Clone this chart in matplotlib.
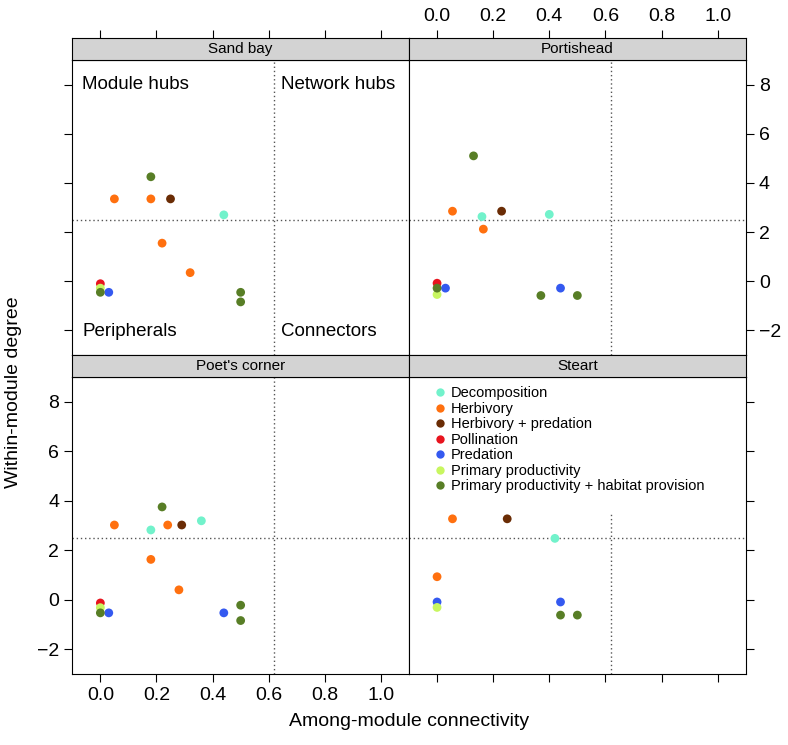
import matplotlib
matplotlib.use("Agg")
import matplotlib.pyplot as plt

plt.rcParams['font.family'] = ['Liberation Sans', 'DejaVu Sans']

# functional groups and their colours
groups = ['Decomposition', 'Herbivory', 'Herbivory + predation', 'Pollination',
          'Predation', 'Primary productivity',
          'Primary productivity + habitat provision']
group_colors = ['#72F2CB', '#FF700F', '#6A2C05', '#E8141E',
                '#3459F0', '#C8F660', '#587E26']

sites = ["Sand bay", "Portishead", "Poet's corner", "Steart"]

# among-module connectivity (x), within-module degree (y), group index
sandbay_x = [0.18, 0.05, 0.18, 0.25, 0.44, 0.22, 0.32, 0.0, 0.0, 0.0, 0.03, 0.5, 0.5]
sandbay_y = [4.25, 3.35, 3.35, 3.35, 2.7, 1.55, 0.35, -0.1, -0.28, -0.45, -0.45, -0.45, -0.84]
sandbay_g = [6, 1, 1, 2, 0, 1, 1, 3, 5, 6, 4, 6, 6]

portishead_x = [0.13, 0.055, 0.16, 0.23, 0.4, 0.165, 0.0, 0.0, 0.0, 0.03, 0.37, 0.44, 0.5]
portishead_y = [5.1, 2.85, 2.63, 2.85, 2.72, 2.12, -0.08, -0.54, -0.28, -0.28, -0.58, -0.28, -0.58]
portishead_g = [6, 1, 0, 2, 0, 1, 3, 5, 6, 4, 6, 4, 6]

poets_x = [0.22, 0.05, 0.18, 0.24, 0.29, 0.36, 0.18, 0.28, 0.0, 0.0, 0.0, 0.03, 0.44, 0.5, 0.5]
poets_y = [3.75, 3.02, 2.82, 3.02, 3.02, 3.19, 1.63, 0.4, -0.13, -0.32, -0.53, -0.53, -0.53, -0.22, -0.84]
poets_g = [6, 1, 0, 1, 2, 0, 1, 1, 3, 5, 6, 4, 4, 6, 6]

steart_x = [0.055, 0.25, 0.42, 0.0, 0.0, 0.0, 0.44, 0.44, 0.5]
steart_y = [3.27, 3.27, 2.48, 0.93, -0.09, -0.31, -0.09, -0.62, -0.62]
steart_g = [1, 2, 0, 1, 4, 5, 4, 6, 6]

site_x = [sandbay_x, portishead_x, poets_x, steart_x]
site_y = [sandbay_y, portishead_y, poets_y, steart_y]
site_g = [sandbay_g, portishead_g, poets_g, steart_g]

x_ticks = [0.0, 0.2, 0.4, 0.6, 0.8, 1.0]
y_ticks = [-2, 0, 2, 4, 6, 8]
x_cut = 0.62
y_cut = 2.5

fig = plt.figure(figsize=(7.88, 7.45), dpi=100)

W, H = 788, 745
col_left = [72.3, 409.0]
col_w = 336.7
# (strip top, panel top, panel bottom) in pixels, per row
rows = [(37.7, 60.0, 355.0), (355.0, 377.0, 674.0)]

def px_box(x0, w, top, bottom):
    return [x0 / W, 1 - bottom / H, w / W, (bottom - top) / H]

for i, site in enumerate(sites):
    r, c = divmod(i, 2)
    s_top, p_top, p_bot = rows[r]
    ax = fig.add_axes(px_box(col_left[c], col_w, p_top, p_bot))
    st = fig.add_axes(px_box(col_left[c], col_w, s_top, p_top))

    # strip
    st.set_facecolor('#D3D3D3')
    st.set_xlim(-0.1, 1.1)
    st.set_yticks([])
    st.text(0.5, 0.5, site, transform=st.transAxes, ha='center', va='center', fontsize=11)
    if r == 0:
        st.set_xticks(x_ticks)
        st.tick_params(axis='x', direction='out', length=6, top=True, bottom=False,
                       labeltop=(c == 1), labelbottom=False, labelsize=14)
    else:
        st.set_xticks([])

    # reference lines
    ax.axhline(y_cut, color='#555555', lw=1, ls=(0, (1, 2)), zorder=1)
    if site == 'Steart':
        ax.plot([x_cut, x_cut], [-3, 3.5], color='#555555', lw=1, ls=(0, (1, 2)), zorder=1)
    else:
        ax.axvline(x_cut, color='#555555', lw=1, ls=(0, (1, 2)), zorder=1)

    xs, ys, gs = site_x[i], site_y[i], site_g[i]
    for k in range(len(groups)):
        px = [xs[j] for j in range(len(xs)) if gs[j] == k]
        py = [ys[j] for j in range(len(ys)) if gs[j] == k]
        ax.scatter(px, py, s=40, color=group_colors[k], edgecolors='none', zorder=3)

    ax.set_xlim(-0.1, 1.1)
    ax.set_ylim(-3, 9)
    ax.set_xticks(x_ticks)
    ax.set_yticks(y_ticks)
    ax.set_yticklabels(['\u22122', '0', '2', '4', '6', '8'])
    ax.tick_params(axis='x', direction='out', length=6, labelsize=14,
                   bottom=(r == 1), top=False, labelbottom=(r == 1 and c == 0), labeltop=False)
    ax.tick_params(axis='y', direction='out', length=6, labelsize=14,
                   left=(c == 0), right=(c == 1),
                   labelleft=(c == 0 and r == 1), labelright=(c == 1 and r == 0))

    if site == 'Sand bay':
        ax.text(-0.065, 8, 'Module hubs', fontsize=13.5, va='center', ha='left')
        ax.text(0.645, 8, 'Network hubs', fontsize=13.5, va='center', ha='left')
        ax.text(-0.065, -2.05, 'Peripherals', fontsize=13.5, va='center', ha='left')
        ax.text(0.645, -2.05, 'Connectors', fontsize=13.5, va='center', ha='left')

    if site == 'Steart':
        handles = [plt.Line2D([], [], marker='o', ls='none', markersize=6,
                              markerfacecolor=col, markeredgecolor='none')
                   for col in group_colors]
        ax.legend(handles, groups, loc='upper left', bbox_to_anchor=(0.05, 1.0),
                  frameon=False, fontsize=10.5, handlelength=0.6, handletextpad=0.45,
                  labelspacing=0.1, borderaxespad=0.25)

fig.text(14 / W, 1 - 392 / H, 'Within-module degree', rotation=90, ha='center', va='center', fontsize=14)
fig.text(409 / W, 1 - 721 / H, 'Among-module connectivity', ha='center', va='center', fontsize=14)

fig.savefig('out.png', dpi=100)
